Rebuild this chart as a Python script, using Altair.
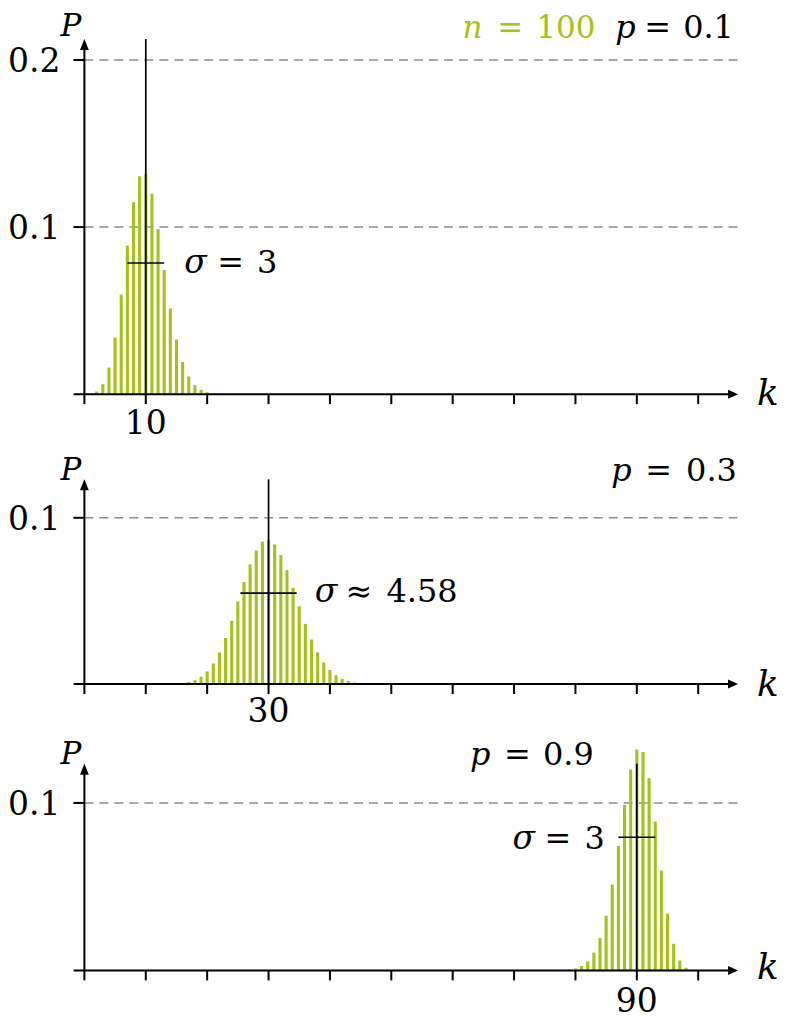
import altair as alt
import pandas as pd

# ---------------- data ----------------
n_trials = 100
panel_p_text = ["0.1", "0.3", "0.9"]
panel_mu = [10, 30, 90]
panel_sigma = [3, 4.58, 3]
panel_sigma_sign = ["=", "≈", "="]
panel_sigma_text = ["3", "4.58", "3"]
panel_mu_label = ["10", "30", "90"]
panel_sigma_level = [0.0785, 0.0547, 0.0795]

k_p01 = list(range(0, 26))
P_p01 = [0.00003, 0.0003, 0.0016, 0.0059, 0.0159, 0.0339, 0.0596, 0.0889,
         0.1148, 0.1304, 0.1319, 0.1199, 0.0988, 0.0743, 0.0513, 0.0327,
         0.0193, 0.0106, 0.0054, 0.0026, 0.0012, 0.0005, 0.0002, 0.0001,
         0.00003, 0.00001]

k_p03 = list(range(13, 49))
P_p03 = [0.00004, 0.0001, 0.00025, 0.00056, 0.0012, 0.0024, 0.0044, 0.0076,
         0.0124, 0.0190, 0.0277, 0.0380, 0.0496, 0.0613, 0.0720, 0.0804,
         0.0856, 0.0868, 0.0840, 0.0776, 0.0685, 0.0579, 0.0468, 0.0362,
         0.0268, 0.0191, 0.0130, 0.0085, 0.0053, 0.0032, 0.0019, 0.0010,
         0.00055, 0.00028, 0.00014, 0.00006]

k_p09 = list(range(75, 101))
P_p09 = [0.00001, 0.00003, 0.0001, 0.0002, 0.0005, 0.0012, 0.0026, 0.0054,
         0.0106, 0.0193, 0.0327, 0.0513, 0.0743, 0.0988, 0.1199, 0.1319,
         0.1304, 0.1148, 0.0889, 0.0596, 0.0339, 0.0159, 0.0059, 0.0016,
         0.0003, 0.00003]

x_ticks = [0, 10, 20, 30, 40, 50, 60, 70, 80, 90, 100]
y_grid = [[0.1, 0.2], [0.1], [0.1]]
y_grid_labels = [["0.1", "0.2"], ["0.1"], ["0.1"]]

# ---------------- layout / style ----------------
FONT = "DejaVu Serif"
GREEN = "#a6c21a"
GRID = "#8c8c8c"
W = 772
X_ORIGIN = 75.5          # px of k = 0 inside the plot
PX_PER_K = 6.146
x_domain = [-X_ORIGIN / PX_PER_K, (W - X_ORIGIN) / PX_PER_K]
ARROW_K = (730 - X_ORIGIN) / PX_PER_K   # x-axis arrow tip
AXIS_START_K = -1.76
GRID_END_K = ARROW_K

PANELS = [
    dict(height=437, base=386.0, ppu=1673.0, top_px=355.7, P_dy=-3, k_dy=11, lab_dy=40),
    dict(height=280, base=239.3, ppu=1665.0, top_px=205.0, P_dy=1, k_dy=12, lab_dy=38),
    dict(height=291, base=246.0, ppu=1677.0, top_px=207.0, P_dy=0, k_dy=9, lab_dy=42),
]
bars_k = [k_p01, k_p03, k_p09]
bars_P = [P_p01, P_p03, P_p09]


def make_panel(i):
    cfg = PANELS[i]
    H, base, ppu = cfg["height"], cfg["base"], cfg["ppu"]
    xs = alt.Scale(domain=x_domain, nice=False, zero=False)
    ys = alt.Scale(domain=[-(H - base) / ppu, base / ppu], nice=False, zero=False)
    top = cfg["top_px"] / ppu

    def enc(df):
        e = dict(x=alt.X("x:Q", scale=xs, axis=None),
                 y=alt.Y("y:Q", scale=ys, axis=None))
        if "x2" in df:
            e["x2"] = alt.X2("x2:Q")
        if "y2" in df:
            e["y2"] = alt.Y2("y2:Q")
        return e

    def rules(df, **kw):
        return alt.Chart(df).mark_rule(**kw).encode(**enc(df))

    def text(t, x, y, dx=0, dy=0, italic=False, size=31, color="black", align="left"):
        df = pd.DataFrame({"x": [x], "y": [y], "t": [t]})
        e = enc(df)
        e["text"] = alt.Text("t:N")
        return alt.Chart(df).mark_text(
            align=align, baseline="alphabetic", dx=dx, dy=dy, font=FONT,
            fontSize=size, fontStyle="italic" if italic else "normal", color=color
        ).encode(**e)

    def arrow(x, y, shape, size):
        df = pd.DataFrame({"x": [x], "y": [y]})
        return alt.Chart(df).mark_point(
            shape=shape, size=size, filled=True, color="black", opacity=1, strokeWidth=0
        ).encode(**enc(df))

    layers = []
    # dashed grid
    layers.append(rules(pd.DataFrame({"x": [0.0] * len(y_grid[i]),
                                      "x2": [GRID_END_K] * len(y_grid[i]),
                                      "y": y_grid[i]}),
                        color=GRID, strokeWidth=1.5, strokeDash=[9, 6]))
    # bars
    layers.append(rules(pd.DataFrame({"x": bars_k[i], "y": [0.0] * len(bars_k[i]),
                                      "y2": bars_P[i]}),
                        color=GREEN, strokeWidth=3.1))
    # mean line
    mu, sg = panel_mu[i], panel_sigma[i]
    layers.append(rules(pd.DataFrame({"x": [mu], "y": [0.0], "y2": [top]}),
                        color="black", strokeWidth=1.7))
    # sigma line
    layers.append(rules(pd.DataFrame({"x": [mu - sg], "x2": [mu + sg],
                                      "y": [panel_sigma_level[i]]}),
                        color="black", strokeWidth=1.7))
    # x axis line
    layers.append(rules(pd.DataFrame({"x": [AXIS_START_K], "x2": [ARROW_K - 5 / PX_PER_K],
                                      "y": [0.0]}), color="black", strokeWidth=2))
    # y axis line
    layers.append(rules(pd.DataFrame({"x": [0.0], "y": [0.0], "y2": [top - 8 / ppu]}),
                        color="black", strokeWidth=2))
    # x ticks
    layers.append(rules(pd.DataFrame({"x": x_ticks, "y": [0.0] * len(x_ticks),
                                      "y2": [-10 / ppu] * len(x_ticks)}),
                        color="black", strokeWidth=2))
    # y ticks
    layers.append(rules(pd.DataFrame({"x": [-11 / PX_PER_K] * len(y_grid[i]),
                                      "x2": [0.0] * len(y_grid[i]), "y": y_grid[i]}),
                        color="black", strokeWidth=2))
    # arrow heads
    layers.append(arrow(ARROW_K - 5 / PX_PER_K, 0.0, "M-1,-0.9L1,0L-1,0.9Z", 100))
    layers.append(arrow(0.0, top - 5.5 / ppu, "M-0.8,1L0,-1L0.8,1Z", 121))

    # axis texts
    for v, lab in zip(y_grid[i], y_grid_labels[i]):
        layers.append(text(lab, 0.0, v, dx=-24, dy=12, size=33, align="right"))
    layers.append(text("P", 0.0, top, dx=-13.5, dy=cfg["P_dy"], italic=True, size=31,
                       align="center"))
    layers.append(text("k", ARROW_K, 0.0, dx=19, dy=cfg["k_dy"], italic=True, size=36))
    layers.append(text(panel_mu_label[i], mu, 0.0, dy=cfg["lab_dy"], size=33, align="center"))

    # sigma annotation
    sl = panel_sigma_level[i]
    if i == 0:
        ax, offs, sdy = mu + sg, [20, 53, 93], 10
    elif i == 1:
        ax, offs, sdy = mu + sg, [18, 49, 90], 9
    else:
        ax, offs, sdy = mu - sg, [-106, -74, -34], 12
    layers.append(text("σ", ax, sl, dx=offs[0], dy=sdy, italic=True, size=33))
    layers.append(text(panel_sigma_sign[i], ax, sl, dx=offs[1], dy=sdy, size=32))
    layers.append(text(panel_sigma_text[i], ax, sl, dx=offs[2], dy=sdy, size=32))

    # p annotation
    if i == 0:
        layers.append(text("n", ARROW_K, top, dx=-276, dy=-1, italic=True, size=31, color=GREEN))
        layers.append(text("=", ARROW_K, top, dx=-241, dy=-1, size=31, color=GREEN))
        layers.append(text(str(n_trials), ARROW_K, top, dx=-202, dy=-1, size=31, color=GREEN))
        px_, pdy, poffs = ARROW_K, -1, [-123, -94, -55]
    elif i == 1:
        px_, pdy, poffs = ARROW_K, 2, [-127, -93, -52]
    else:
        px_, pdy, poffs = mu, 1, [-167, -133, -94]
    layers.append(text("p", px_, top, dx=poffs[0], dy=pdy, italic=True, size=32))
    layers.append(text("=", px_, top, dx=poffs[1], dy=pdy, size=32))
    layers.append(text(panel_p_text[i], px_, top, dx=poffs[2], dy=pdy, size=32))

    return alt.layer(*layers).properties(width=W, height=H)


chart = alt.vconcat(
    make_panel(0), make_panel(1), make_panel(2), spacing=0, bounds="flush"
).properties(padding=0).configure_view(stroke=None)

chart.save("out.html", embed_options={"renderer": "svg", "actions": False})
